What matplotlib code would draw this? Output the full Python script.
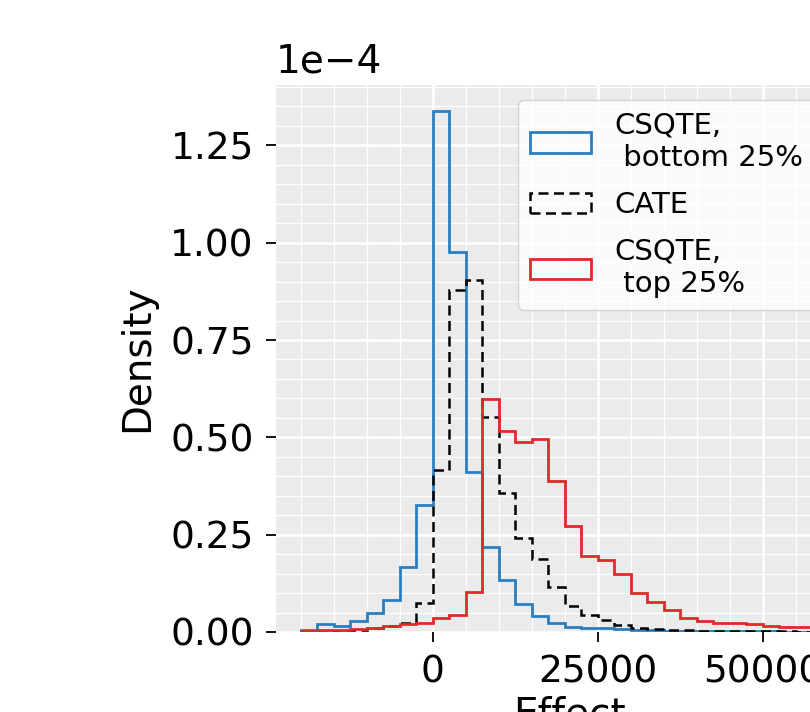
import numpy as np
import matplotlib
matplotlib.use('Agg')
import matplotlib.pyplot as plt
from matplotlib.ticker import MultipleLocator, AutoMinorLocator

# histogram bin edges (effect), 2500 wide
bin_start = -20000
bin_width = 2500
n_bins = 38

# densities, in units of 1e-4
csqte_bottom = [0.005, 0.02, 0.015, 0.028, 0.048, 0.082, 0.168, 0.325,
                1.338, 0.977, 0.41, 0.219, 0.133, 0.073, 0.04, 0.023,
                0.014, 0.0095, 0.009, 0.007, 0.005, 0.004, 0.003, 0.003,
                0.002, 0.002, 0.002, 0.0015, 0.0015, 0.001, 0.001, 0.001,
                0.001, 0.0008, 0.0008, 0.0006, 0.0005, 0.0005]
cate = [0.001, 0.001, 0.002, 0.005, 0.009, 0.016, 0.024, 0.074,
        0.415, 0.878, 0.905, 0.552, 0.357, 0.241, 0.188, 0.115,
        0.067, 0.044, 0.031, 0.018, 0.0095, 0.007, 0.005, 0.004,
        0.003, 0.003, 0.002, 0.002, 0.0015, 0.0015, 0.001, 0.001,
        0.001, 0.0008, 0.0008, 0.0006, 0.0005, 0.0005]
csqte_top = [0.003, 0.005, 0.006, 0.008, 0.011, 0.015, 0.02, 0.024,
             0.035, 0.044, 0.102, 0.599, 0.515, 0.488, 0.496, 0.387,
             0.273, 0.194, 0.185, 0.148, 0.0995, 0.078, 0.057, 0.037,
             0.029, 0.024, 0.022, 0.02, 0.016, 0.014, 0.013, 0.011,
             0.01, 0.009, 0.008, 0.007, 0.006, 0.005]

labels = ['CSQTE,\n bottom 25%', 'CATE', 'CSQTE,\n top 25%']

edges = bin_start + bin_width * np.arange(n_bins + 1)
lefts = edges[:-1]

fig = plt.figure(figsize=(8.1, 7.12), dpi=100)
ax = fig.add_axes([276 / 810, 1 - 632 / 712, 586 / 810, 547 / 712])
ax.set_facecolor('#ebebeb')
for s in ax.spines.values():
    s.set_visible(False)

ax.hist(lefts, bins=edges, weights=np.array(csqte_bottom) * 1e-4,
        histtype='step', color='#2b7fc0', lw=2, label=labels[0])
ax.hist(lefts, bins=edges, weights=np.array(cate) * 1e-4,
        histtype='step', color='black', lw=1.8, ls=(0, (4, 2.2)),
        label=labels[1])
ax.hist(lefts, bins=edges, weights=np.array(csqte_top) * 1e-4,
        histtype='step', color='#e02a2a', lw=2, label=labels[2])

ax.set_xlim(-23750, 65000)
ax.set_ylim(0, 1.405e-4)
ax.ticklabel_format(axis='y', style='sci', scilimits=(0, 0))
ax.xaxis.set_major_locator(MultipleLocator(25000))
ax.yaxis.set_major_locator(MultipleLocator(0.25e-4))
ax.xaxis.set_minor_locator(AutoMinorLocator(5))
ax.yaxis.set_minor_locator(AutoMinorLocator(5))
ax.grid(which='major', color='white', lw=1.8)
ax.grid(which='minor', color='white', lw=0.9)
ax.set_axisbelow(True)
ax.tick_params(which='major', direction='out', length=7, width=1.3,
               labelsize=27, colors='black', pad=9)
ax.tick_params(which='minor', length=0)
ax.yaxis.get_offset_text().set_fontsize(28)
ax.yaxis.OFFSETTEXTPAD = 9

ax.set_xlabel('Effect', fontsize=28, labelpad=4)
ax.set_ylabel('Density', fontsize=28, labelpad=10)

leg = ax.legend(loc='upper left', bbox_to_anchor=(518 / 810, 1 - 100 / 712),
                bbox_transform=fig.transFigure, borderaxespad=0,
                fontsize=21, handlelength=2.1, labelspacing=0.65,
                facecolor='white', edgecolor='#cccccc', framealpha=0.8)

fig.savefig('out.png', dpi=100)
